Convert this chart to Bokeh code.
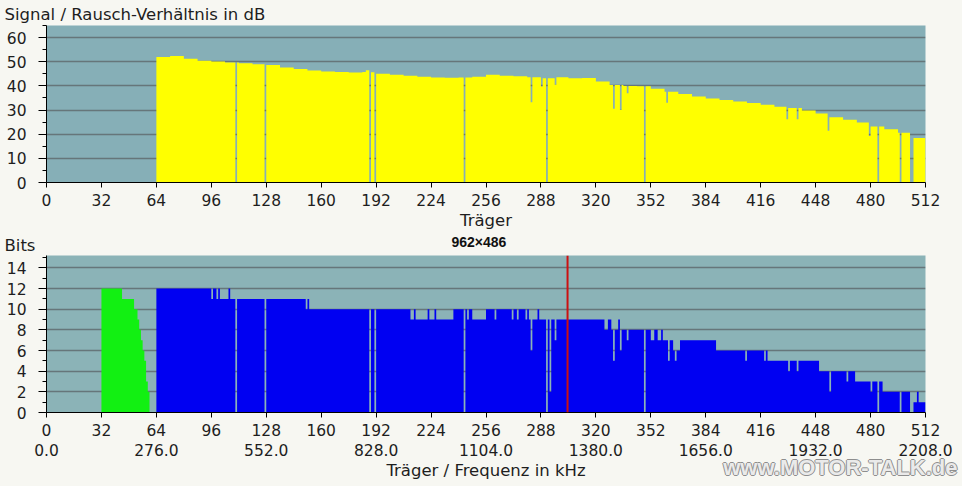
from bokeh.plotting import figure
from bokeh.models import LinearAxis, FixedTicker, Range1d, Span, Title
from bokeh.layouts import column
from bokeh.embed import file_html
from bokeh.resources import INLINE

# ---------------- data ----------------
N_CARRIERS = 512
carrier_ticks = list(range(0, 513, 32))
freq_ticks = list(range(0, 513, 64))
freq_tick_labels = ["0.0", "276.0", "552.0", "828.0", "1104.0", "1380.0",
                    "1656.0", "1932.0", "2208.0"]

# Signal / Rausch (dB): runs (start carrier, value), each run lasts until the next start
snr_run_start = [64, 72, 80, 88, 96, 104, 112, 120, 128, 136, 144, 152, 160, 168,
                 176, 184, 186, 188, 192, 200, 208, 216, 224, 232, 240, 248, 256,
                 264, 272, 280, 288, 296, 304, 312, 320, 328, 336, 344, 352, 360,
                 368, 376, 384, 392, 400, 408, 416, 424, 432, 440, 448, 456, 464,
                 472, 480, 488, 496, 504]
snr_run_value = [52.0, 52.4, 51.2, 50.4, 50.1, 49.7, 49.4, 49.0, 48.6, 47.6, 47.0,
                 46.4, 46.0, 45.8, 45.5, 45.7, 46.5, 45.6, 45.0, 44.6, 44.2, 43.8,
                 43.5, 43.4, 43.5, 43.8, 44.6, 44.2, 44.0, 43.6, 43.2, 43.6, 43.2,
                 43.3, 41.8, 40.4, 40.0, 39.8, 38.8, 37.6, 36.6, 35.6, 34.8, 34.2,
                 33.5, 32.9, 32.2, 31.4, 30.8, 29.8, 28.6, 27.0, 26.0, 24.8, 23.2,
                 22.0, 20.6, 18.4]
snr_dip_carrier = [110, 127, 188, 191, 243, 282, 288, 291, 296, 330, 334, 338, 348,
                   361, 431, 437, 455, 479, 484, 497, 503, 504]
snr_dip_value = [0, 0, 0, 0, 0, 33.2, 39.7, 0, 40.5, 30.5, 30.0, 37.0, 0, 33.0,
                 26.2, 26.2, 21.4, 19.3, 0, 0, 0, 0]

# Bits upstream (green), carriers 32..59
up_carrier = list(range(32, 60))
up_bits = [12, 12, 12, 12, 12, 12, 12, 12, 12, 12, 12, 12,
           11, 11, 11, 11, 11, 11, 11,
           10, 10, 9, 8, 7, 6, 5, 3, 2]

# Bits downstream (blue): runs + dips
down_run_start = [64, 96, 97, 99, 100, 101, 106, 107, 151, 152, 153, 212, 214, 215,
                  222, 223, 226, 227, 237, 245, 246, 248, 256, 261, 262, 271, 272,
                  274, 275, 279, 280, 281, 286, 287, 325, 327, 329, 333, 334, 352,
                  354, 356, 358, 359, 365, 369, 390, 420, 450, 471, 487, 505, 507,
                  508]
down_run_value = [12, 11, 12, 11, 12, 11, 12, 11, 10, 11, 10, 9, 10, 9,
                  10, 9, 10, 9, 10, 9, 10, 9, 10, 9, 10, 9, 10,
                  9, 10, 9, 10, 9, 10, 9, 8, 9, 8, 9, 8, 7,
                  8, 7, 8, 7, 6, 7, 6, 5, 4, 3, 2, 1, 2,
                  1]
down_dip_carrier = [110, 127, 188, 191, 243, 282, 291, 293, 296, 330, 334, 338, 348,
                    362, 366, 407, 418, 432, 437, 456, 466, 480, 484, 497, 503, 504]
down_dip_value = [0, 0, 0, 0, 0, 6, 0, 2, 7, 5, 6, 7, 0,
                  5, 5, 5, 5, 4, 4, 2, 3, 2, 0, 0, 0, 0]

marker_carrier = 303.5

# ---------------- helpers ----------------
def expand(run_start, run_value, dip_c, dip_v, n=N_CARRIERS):
    vals = [0.0] * n
    for i, s in enumerate(run_start):
        e = run_start[i + 1] if i + 1 < len(run_start) else n
        for c in range(s, e):
            vals[c] = run_value[i]
    for c, v in zip(dip_c, dip_v):
        vals[c] = v
    return vals


def step_outline(carriers, vals):
    """Outline of the bars of consecutive carriers (each carrier is 1 wide)."""
    xs, ys = [carriers[0]], [0]
    for c, v in zip(carriers, vals):
        xs += [c, c + 1]
        ys += [v, v]
    xs.append(carriers[-1] + 1)
    ys.append(0)
    return xs, ys


PAGE_BG = "#F7F7F2"
TXT = "#1E1E1E"
FONT = "DejaVu Sans"
W = 962


def style(p, yticks, yminor, bg):
    p.background_fill_color = bg
    p.border_fill_color = PAGE_BG
    p.outline_line_color = None
    p.xgrid.visible = False
    p.ygrid.ticker = FixedTicker(ticks=yticks)
    p.ygrid.grid_line_color = "#66767A"
    p.ygrid.grid_line_width = 1.3
    ax = p.xaxis[0]
    ax.ticker = FixedTicker(ticks=carrier_ticks)
    ax.axis_line_color = "black"
    ax.major_tick_line_color = "black"
    ax.major_tick_out = 5
    ax.major_tick_in = 0
    ax.minor_tick_line_color = None
    ax.major_label_standoff = 6
    ax.major_label_text_font = FONT
    ax.major_label_text_font_size = "15.5px"
    ax.major_label_text_color = TXT
    ay = p.yaxis[0]
    ay.ticker = FixedTicker(ticks=yticks, minor_ticks=yminor)
    ay.axis_line_color = "black"
    ay.major_tick_line_color = "black"
    ay.minor_tick_line_color = "black"
    ay.major_tick_out = 8
    ay.major_tick_in = 0
    ay.minor_tick_out = 4
    ay.minor_tick_in = 0
    ay.major_label_standoff = 12
    ay.major_label_text_font = FONT
    ay.major_label_text_font_size = "15.5px"
    ay.major_label_text_color = TXT


# ---------------- top: SNR ----------------
p1 = figure(width=W, height=254, x_range=Range1d(0, 512), y_range=Range1d(0, 65),
            output_backend="svg", toolbar_location=None,
            min_border_left=46, min_border_right=37, min_border_top=24,
            min_border_bottom=72)
style(p1, list(range(0, 61, 10)), list(range(0, 66, 5)), "#86AFB7")
p1.title.text = "Signal / Rausch-Verhältnis in dB"
p1.title.align = "left"
p1.title.offset = -42
p1.title.standoff = 3.6
p1.title.vertical_align = "bottom"
p1.title.text_font = FONT
p1.title.text_font_size = "16.5px"
p1.title.text_font_style = "normal"
p1.title.text_color = TXT

xa1 = p1.xaxis[0]
xa1.axis_label = "Träger"
xa1.axis_label_text_font = FONT
xa1.axis_label_text_font_size = "16.5px"
xa1.axis_label_text_font_style = "normal"
xa1.axis_label_text_color = TXT
xa1.axis_label_standoff = 2

snr_vals = expand(snr_run_start, snr_run_value, snr_dip_carrier, snr_dip_value)
snr_carriers = list(range(snr_run_start[0], N_CARRIERS))
sx, sy = step_outline(snr_carriers, [snr_vals[c] for c in snr_carriers])
p1.patch(sx, sy, fill_color="#FFFF00", line_color=None)

p1.add_layout(Title(text="962×486", align="left", offset=405,
                    vertical_align="bottom", standoff=-2,
                    text_font="Liberation Sans", text_font_size="14px",
                    text_font_style="bold", text_color="#111111"), "below")
p1.add_layout(Title(text="Bits", align="left", offset=-42,
                    vertical_align="top", standoff=-25.6,
                    text_font=FONT, text_font_size="16.5px",
                    text_font_style="normal", text_color=TXT), "below")

# ---------------- bottom: Bits ----------------
p2 = figure(width=W, height=232, x_range=Range1d(0, 512), y_range=Range1d(0, 15.2),
            output_backend="svg", toolbar_location=None,
            min_border_left=46, min_border_right=37, min_border_top=1,
            min_border_bottom=74)
style(p2, list(range(0, 15, 2)), list(range(0, 16, 1)), "#8BB3B7")

ax2 = LinearAxis(ticker=FixedTicker(ticks=freq_ticks),
                 major_label_overrides={t_: lab for t_, lab in zip(freq_ticks, freq_tick_labels)},
                 axis_line_color=None, major_tick_line_color=None,
                 minor_tick_line_color=None, major_tick_out=0, major_tick_in=0,
                 minor_tick_out=0, minor_tick_in=0, major_label_standoff=5,
                 major_label_text_font=FONT, major_label_text_font_size="15.5px",
                 major_label_text_color=TXT,
                 axis_label="Träger / Frequenz in kHz", axis_label_text_font=FONT,
                 axis_label_text_font_size="16.5px", axis_label_text_font_style="normal",
                 axis_label_text_color=TXT, axis_label_standoff=2)
p2.add_layout(ax2, "below")

ux, uy = step_outline(up_carrier, up_bits)
p2.patch(ux, uy, fill_color="#12F012", line_color=None)
down_vals = expand(down_run_start, down_run_value, down_dip_carrier, down_dip_value)
down_carriers = list(range(down_run_start[0], N_CARRIERS))
dx, dy = step_outline(down_carriers, [down_vals[c] for c in down_carriers])
p2.patch(dx, dy, fill_color="#0000F2", line_color=None)
p2.add_layout(Span(location=marker_carrier, dimension="height",
                   line_color="#CC1111", line_width=2))

# site watermark: grey outline copies, then light fill on top
wm = "www.MOTOR-TALK.de"
for off, so, col in [(-33, -54.8, "#8E8E8E"), (-31, -54.8, "#8E8E8E"),
                     (-32, -52.8, "#8E8E8E"), (-32, -56.8, "#8E8E8E"),
                     (-32, -54.8, "#EAEAEA")]:
    p2.add_layout(Title(text=wm, align="right", offset=off,
                        vertical_align="top", standoff=so,
                        text_font="Liberation Sans", text_font_size="22px",
                        text_font_style="bold", text_color=col), "below")

layout = column(p1, p2, spacing=0)
layout.styles = {"background-color": PAGE_BG}

open("out.html", "w").write(file_html(layout, INLINE))
